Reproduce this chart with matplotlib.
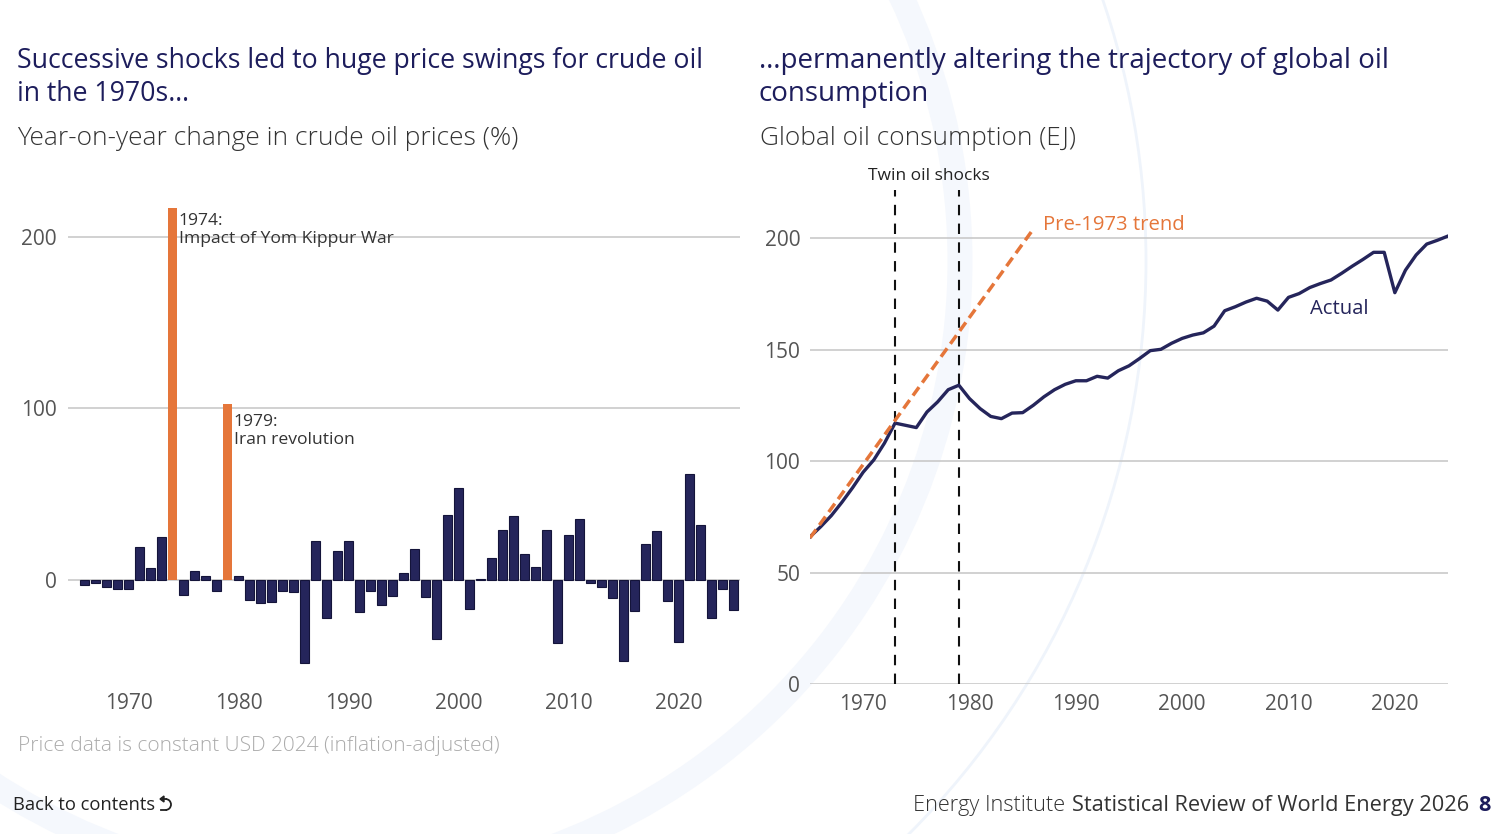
import matplotlib
matplotlib.use("Agg")
import matplotlib.pyplot as plt
from matplotlib.patches import Circle, Arc, Polygon

plt.rcParams['font.family'] = ['Open Sans', 'DejaVu Sans']

# ---------------- data ----------------
price_years = list(range(1966, 2026))
price_change = [
    -3, -2, -4, -5, -5.5,          # 1966-1970
    19, 7, 25, 217, -9,            # 1971-1975
    5, 2.3, -6.4, 102.8, 2.3,      # 1976-1980
    -11.7, -13.6, -13, -6.6, -7.2, # 1981-1985
    -48.6, 23, -22.4, 16.7, 23,    # 1986-1990
    -18.9, -6.4, -14.6, -9.5, 4.3, # 1991-1995
    17.9, -10, -34.4, 37.9, 53.4,  # 1996-2000
    -16.7, 0.6, 12.6, 29, 37.3,    # 2001-2005
    15.2, 7.6, 29, -36.9, 26.2,    # 2006-2010
    35.6, -1.9, -4.3, -10.7, -47.4,# 2011-2015
    -17.9, 21, 28.4, -12.2, -36,   # 2016-2020
    61.8, 32.1, -22.4, -5.2, -17.5 # 2021-2025
]
highlight_years = [1974, 1979]
annotations = {1974: "1974:\nImpact of Yom Kippur War", 1979: "1979:\nIran revolution"}

cons_years = list(range(1965, 2026))
consumption = [
    66, 70.5, 75.5, 81.5, 88,            # 1965-1969
    95, 100.5, 108, 117, 116,            # 1970-1974
    115, 122, 126.5, 132, 134,           # 1975-1979
    128, 123.5, 120, 119, 121.5,         # 1980-1984
    121.7, 125, 128.8, 132, 134.4,       # 1985-1989
    136, 136, 138, 137.2, 140.5,         # 1990-1994
    142.7, 146, 149.5, 150.1, 152.8,     # 1995-1999
    155, 156.5, 157.5, 160.5, 167.4,     # 2000-2004
    169.2, 171.3, 173, 171.7, 167.7,     # 2005-2009
    173.4, 175.1, 177.8, 179.6, 181.2,   # 2010-2014
    184.2, 187.4, 190.4, 193.6, 193.6,   # 2015-2019
    175.5, 185.6, 192.4, 197.3, 199,     # 2020-2024
    200.9                                # 2025
]
trend_years = [1965, 1985.8]
trend_values = [65.5, 202.7]
shock_years = [1973, 1979]

left_xticks = [1970, 1980, 1990, 2000, 2010, 2020]
left_yticks = [0, 100, 200]
right_xticks = [1970, 1980, 1990, 2000, 2010, 2020]
right_yticks = [0, 50, 100, 150, 200]

NAVY = '#25255b'
ORANGE = '#e5763a'
GRID = '#c9c9c9'
TICK = '#555555'

W, H = 1500, 834
fig = plt.figure(figsize=(W / 100, H / 100), dpi=100)
fig.patch.set_facecolor('white')

def fx(px):
    return px / W

def fy(py):
    return 1 - py / H

# background decorative arcs (pixel coordinates)
bg = fig.add_axes([0, 0, 1, 1], zorder=0)
bg.set_xlim(0, W)
bg.set_ylim(H, 0)
bg.axis('off')
bg.add_patch(Circle((335, 261), 625, fill=False, edgecolor='#f5f8fd', linewidth=18))
bg.add_patch(Circle((335, 261), 811, fill=False, edgecolor='#eff4fb', linewidth=2))

# ---------------- left chart ----------------
ax1 = fig.add_axes([fx(68), fy(683), (740 - 68) / W, (683 - 194) / H], zorder=2)
ax1.patch.set_alpha(0)
colors = [ORANGE if y in highlight_years else NAVY for y in price_years]
edges = ['none' if y in highlight_years else '#14143a' for y in price_years]
ax1.bar(price_years, price_change, width=0.76, color=colors, edgecolor=edges,
        linewidth=0.8, zorder=3)
ax1.set_xlim(1964.5, 2025.6)
ax1.set_ylim(-60, 225)
ax1.set_yticks(left_yticks)
ax1.set_xticks(left_xticks)
ax1.yaxis.grid(True, color=GRID, linewidth=1.2, zorder=1)
ax1.set_axisbelow(True)
for s in ax1.spines.values():
    s.set_visible(False)
ax1.tick_params(axis='both', length=0, labelsize=15, labelcolor=TICK)
ax1.tick_params(axis='y', pad=8)
ax1.tick_params(axis='x', pad=7)
label_drop = {1974: 2.8, 1979: 6.0}
for yr, txt in annotations.items():
    val = price_change[price_years.index(yr)]
    ax1.text(yr + 0.55, val - label_drop[yr], txt, ha='left', va='top', fontsize=12.6,
             color='#333333', linespacing=1.2, zorder=4)

# ---------------- right chart ----------------
ax2 = fig.add_axes([fx(810), fy(684), (1448 - 810) / W, (684 - 189) / H], zorder=2)
ax2.patch.set_alpha(0)
ax2.set_xlim(1965, 2025)
ax2.set_ylim(0, 222)
ax2.set_yticks(right_yticks)
ax2.set_xticks(right_xticks)
ax2.yaxis.grid(True, color=GRID, linewidth=1.2, zorder=1)
ax2.set_axisbelow(True)
for s in ax2.spines.values():
    s.set_visible(False)
ax2.tick_params(axis='both', length=0, labelsize=15, labelcolor=TICK)
ax2.tick_params(axis='y', pad=7)
ax2.tick_params(axis='x', pad=7)
for yr in shock_years:
    ax2.axvline(yr, ymin=0, ymax=0.998, color='#111111', linewidth=1.5,
                dashes=(5, 4), zorder=2)
ax2.plot(cons_years, consumption, color=NAVY, linewidth=2.4, zorder=3,
         solid_joinstyle='round')
ax2.plot(trend_years, trend_values, color=ORANGE, linewidth=2.5,
         dashes=(3, 1.6), zorder=4)
ax2.text(sum(shock_years) / 2 + 0.2, 227.8, "Twin oil shocks", ha='center', va='center',
         fontsize=12.5, color='#222222', clip_on=False)
ax2.text(trend_years[1] + 1.1, trend_values[1] + 3.2, "Pre-1973 trend", ha='left',
         va='center', fontsize=14.6, color=ORANGE, fontweight='medium')
ax2.text(2014.8, 168.2, "Actual", ha='center', va='center', fontsize=14.6, color=NAVY,
         fontweight='medium')

# ---------------- titles ----------------
TITLE_C = '#1d1d5c'
fig.text(fx(17), fy(68), "Successive shocks led to huge price swings for crude oil",
         fontsize=19.2, color=TITLE_C, va='baseline', fontweight='medium')
fig.text(fx(17), fy(101), "in the 1970s\u2026", fontsize=19.2, color=TITLE_C,
         va='baseline', fontweight='medium')
fig.text(fx(17), fy(145), "Year-on-year change in crude oil prices (%)", fontsize=19,
         color='#333333', va='baseline', fontweight='light')

fig.text(fx(759), fy(68), "\u2026permanently altering the trajectory of global oil",
         fontsize=20, color=TITLE_C, va='baseline', fontweight='medium')
fig.text(fx(759), fy(101), "consumption", fontsize=20, color=TITLE_C,
         va='baseline', fontweight='medium')
fig.text(fx(760), fy(145), "Global oil consumption (EJ)", fontsize=18.9,
         color='#333333', va='baseline', fontweight='light')

fig.text(fx(18), fy(751), "Price data is constant USD 2024 (inflation-adjusted)",
         fontsize=15, color='#ababab', va='baseline', fontweight='light')
fig.text(fx(13), fy(810), "Back to contents", fontsize=13.2, color='#222222',
         va='baseline')

# "back" icon (a symbol no installed font has) drawn as a shape, pixel coords
icon_col = '#222222'
bg.add_patch(Arc((165.5, 804.5), 11, 11, theta1=-90, theta2=90, color=icon_col,
                 linewidth=1.3, zorder=5))
bg.plot([163, 165.5], [799, 799], color=icon_col, linewidth=1.3, zorder=5)
bg.plot([160.5, 165.5], [810, 810], color=icon_col, linewidth=1.3, zorder=5)
bg.add_patch(Polygon([[160, 799], [164, 796], [164, 802]], closed=True,
                     color=icon_col, zorder=5))

# footer, built right to left
renderer = fig.canvas.get_renderer()
x_right = 1491
pieces = [("8", '#1d1d5c', 'bold', 15.7, 0),
          ("Statistical Review of World Energy 2026", '#333333', 'medium', 15.7, 10),
          ("Energy Institute", '#333333', 'light', 15.7, 6)]
for txt, col, wt, fs, gap in pieces:
    x_right -= gap
    t = fig.text(fx(x_right), fy(811), txt, fontsize=fs, color=col, fontweight=wt,
                 ha='right', va='baseline')
    bb = t.get_window_extent(renderer=renderer)
    x_right -= bb.width

fig.savefig("out.png", dpi=100)
